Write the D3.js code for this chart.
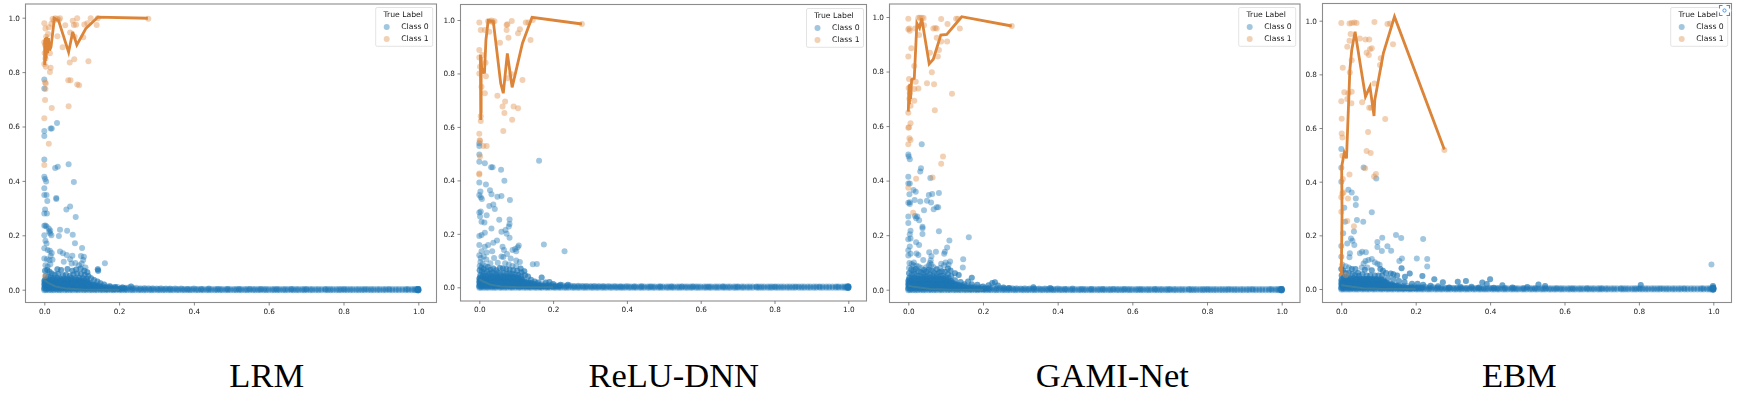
<!DOCTYPE html>
<html>
<head>
<meta charset="utf-8">
<script src="https://cdn.jsdelivr.net/npm/d3@7"></script>
<style>
    html, body { margin: 0; background: #fff; overflow: hidden; }
    svg { display: block; }
    .plot { filter: blur(0.6px); }
    .tick text, .legend text { font-family: "DejaVu Sans"; fill: #1a1a1a; }
    .caption { font-family: "Liberation Serif"; font-size: 34.5px; fill: #000; text-anchor: middle; }
</style>
</head>
<body>
<svg width="1737" height="393"></svg>
<script>
const tickValues = [0, 0.2, 0.4, 0.6, 0.8, 1.0];
const captions = ["LRM", "ReLU-DNN", "GAMI-Net", "EBM"];
const legendTitle = "True Label";
const legendLabels = ["Class 0", "Class 1"];

// x of the class 0 points lying on the zero line, same for all models
const baselineX = [0, .005, .012, .019, .025, .033, .04, .046, .055, .061, .069, .075, .084, .09, .098, .106, .112, .121, .127, .135,
    .141, .15, .156, .164, .17, .179, .185, .192, .201, .207, .215, .221, .23, .236, .243, .252, .258, .266, .272, .281,
    .287, .294, .303, .309, .317, .323, .332, .338, .345, .354, .36, .369, .375, .383, .389, .396, .405, .411, .419, .425,
    .434, .44, .447, .456, .462, .47, .476, .485, .491, .498, .507, .513, .521, .527, .536, .542, .549, .558, .564, .572,
    .578, .587, .593, .6, .609, .615, .623, .629, .638, .644, .651, .66, .666, .674, .68, .689, .695, .702, .711, .717,
    .726, .733, .741, .752, .758, .765, .772, .781, .788, .794, .803, .81, .818, .825, .834, .841, .849, .856, .866, .874,
    .881, .89, .897, .906, .913, .923, .931, .94, .948, .957, .966, .974, .983, .99, .995, .998, 1, 1, 1, 1];

// solid part of the class 0 cloud next to the origin, same for all models
const cloudCore = [
    [0, .006], [.007, .004], [.013, .007], [.02, .005], [.027, .006], [.033, .004], [.04, .007], [.046, .005], [.053, .006], [.06, .004],
    [.066, .007], [.073, .005], [.08, .006], [.086, .004], [.093, .007], [.1, .005], [.106, .006], [.113, .004], [.12, .006], [.127, .005],
    [.134, .004], [.141, .006], [.149, .004], [.157, .005], [.166, .003], [.175, .004], [.186, .003], [.198, .003],
    [.002, .014], [.009, .015], [.016, .013], [.023, .014], [.03, .016], [.037, .013], [.043, .015], [.05, .014], [.057, .013], [.064, .016],
    [.07, .014], [.077, .015], [.084, .013], [.09, .014], [.097, .016], [.104, .013], [.111, .014], [.118, .012], [.125, .013], [.133, .011],
    [.142, .012], [.152, .01], [.163, .009],
    [.001, .023], [.008, .022], [.015, .024], [.021, .023], [.028, .021], [.035, .024], [.042, .022], [.049, .023], [.055, .021], [.062, .024],
    [.069, .023], [.075, .022], [.082, .024], [.089, .022], [.096, .023], [.103, .021], [.11, .022], [.118, .02], [.127, .019], [.136, .017],
    [0, .032], [.006, .031], [.013, .033], [.019, .03], [.026, .032], [.033, .031], [.039, .03], [.046, .033], [.053, .031], [.059, .03],
    [.066, .033], [.073, .031], [.08, .03], [.087, .032], [.094, .031], [.101, .03], [.109, .029], [.117, .027],
    [.003, .01], [.01, .009], [.017, .011], [.024, .01], [.031, .009], [.038, .011], [.044, .01], [.051, .009], [.058, .011], [.065, .01],
    [.071, .009], [.078, .011], [.085, .01], [.092, .009], [.099, .011], [.105, .01], [.112, .009], [.119, .009], [.126, .009], [.134, .008],
    [.143, .008], [.151, .007], [.16, .006], [.17, .006], [.18, .005], [.19, .005], [.205, .004], [.215, .004],
    [0, .018], [.005, .019], [.012, .018], [.018, .02], [.025, .018], [.032, .019], [.039, .018], [.047, .02], [.054, .018], [.06, .019],
    [.067, .018], [.074, .02], [.081, .018], [.088, .019], [.095, .018], [.102, .019], [.109, .017], [.116, .016], [.123, .016], [.13, .015],
    [.138, .014], [.147, .012], [.003, .027], [.01, .028], [.017, .027], [.024, .026], [.031, .028], [.038, .026], [.045, .027], [.052, .026],
    [.058, .027], [.065, .028], [.072, .026], [.079, .027], [.086, .026], [.093, .027], [.1, .026], [.107, .025], [.114, .024], [.122, .023],
    [.002, .037], [.009, .038], [.016, .036], [.023, .037], [.03, .036], [.037, .036], [.044, .037], [.051, .036], [.058, .036], [.065, .037],
    [.072, .036], [.079, .036], [.086, .037], [.093, .036], [.1, .035], [.107, .034], [.114, .032]];

// thin tail of the cloud that runs along the zero line
const cloudTail = [[.12, .018], [.132, .02], [.145, .016], [.155, .014], [.168, .012], [.178, .011], [.188, .009], [.196, .01], [.207, .008], [.218, .007],
    [.226, .008], [.237, .006], [.246, .007], [.257, .005], [.268, .006], [.279, .005], [.29, .005], [.301, .004], [.312, .005], [.325, .004],
    [.336, .004], [.35, .004], [.366, .004], [.382, .003], [.4, .004], [.42, .003], [.44, .004], [.465, .003], [.49, .003], [.52, .003],
    [.55, .003], [.58, .003], [.62, .002], [.66, .003], [.7, .002], [.75, .002], [.8, .002], [.86, .002], [.92, .002], [.97, .002]];

// LRM
const lrmClass0 = [[0, .773], [0, .74], [0, .583], [0, .565], [.017, .593], [.02, .593], [.034, .613], [0, .479], [.029, .447], [.036, .452],
    [.065, .461], [0, .415], [.002, .407], [.005, .398], [0, .373], [0, .348], [.006, .348], [.008, .326], [.032, .337], [.032, .333],
    [.059, .295], [.069, .306], [.084, .267], [.079, .396], [.002, .295], [0, .28], [.007, .28], [0, .235], [.006, .232], [.003, .236],
    [.012, .225], [.013, .213], [.016, .207], [.019, .2], [.016, .218], [.042, .22], [.061, .217], [.039, .197], [.076, .202], [.082, .171],
    [.101, .153], [0, .2], [.003, .18], [.006, .17], [0, .152], [.009, .146], [.042, .14], [.015, .143], [.02, .135], [.05, .134],
    [.017, .125], [.06, .128], [.075, .125], [.098, .124], [.106, .121], [.104, .109], [.162, .097], [.143, .075], [.144, .07], [0, .115],
    [.007, .112], [.014, .108], [.022, .11], [.069, .112], [.052, .103], [.073, .096], [.083, .098], [.093, .09], [.1, .096], [.11, .082],
    [.003, .09], [.009, .085], [.016, .094], [.035, .075], [.045, .072], [.062, .076], [.075, .07], [.085, .074], [.097, .078], [.107, .07],
    [.115, .064], [.002, .07], [.008, .072], [.014, .066], [.02, .06], [.028, .055], [.037, .058], [.05, .052], [.058, .056], [.068, .05],
    [.078, .056], [.088, .06], [.098, .058], [.108, .054], [.118, .05], [.125, .042], [.133, .036], [.142, .03], [.15, .024], [.16, .019],
    [.004, .05], [.011, .048], [.018, .045], [.025, .042], [.034, .044], [.042, .04], [.052, .041], [.062, .04], [.072, .043], [.083, .042],
    [.093, .044], [.103, .042], [.113, .04], [.175, .013], [.19, .01], [.232, .012], [.21, .008]];
const lrmClass1 = [[0, .98], [.003, .96], [.012, .965], [.019, .978], [.022, .995], [.026, .99], [.029, .998], [.035, .996], [.039, .992], [.042, .998],
    [.056, .972], [.076, .989], [.079, .973], [.088, .998], [.085, .974], [.107, .975], [.115, .98], [.124, .998], [.14, .973], [.143, .998],
    [.278, .996], [.035, .932], [.049, .891], [.069, .946], [.081, .93], [.104, .928], [.068, .835], [.08, .847], [.118, .84], [.017, .816],
    [.015, .8], [.015, .869], [.064, .77], [.07, .77], [.088, .754], [.093, .752], [.002, .762], [.004, .758], [.003, .738], [.002, .697],
    [.02, .668], [.065, .674], [0, .63], [.012, .537], [0, .458], [0, .91], [.002, .9], [.005, .93], [.001, .87], [.003, .85],
    [0, .83], [.004, .82], [.006, .89], [.01, .94], [.002, .05]];
const lrmLine = [[.001, .826], [.001, .92], [.003, .84], [.003, .925], [.005, .85], [.006, .93], [.009, .87], [.011, .925], [.014, .88], [.018, .893],
    [.027, .998], [.038, .99], [.065, .873], [.076, .948], [.087, .9], [.111, .96], [.143, 1.002], [.277, .998]];
const lrmLine0 = [[0, .035], [.01, .025], [.03, .012], [.06, .004], [.1, .001], [.2, 0]];

// ReLU-DNN
const reluClass0 = [[0, .529], [0, .539], [0, .497], [0, .47], [.015, .464], [.032, .449], [.036, .449], [.059, .44], [.068, .399], [0, .392],
    [.018, .385], [.029, .363], [.003, .358], [0, .345], [.004, .337], [.007, .33], [.033, .348], [.049, .339], [.06, .342], [.083, .327],
    [.038, .31], [.027, .304], [.042, .293], [0, .28], [.004, .284], [.002, .265], [.02, .27], [.006, .245], [.014, .242], [.054, .253],
    [.082, .254], [.082, .237], [.08, .227], [.033, .22], [.06, .208], [.071, .214], [.074, .2], [.082, .185], [.015, .204], [.006, .196],
    [0, .192], [0, .158], [.015, .152], [.024, .158], [.038, .167], [.048, .175], [.063, .152], [.107, .156], [.097, .143], [.175, .16],
    [.231, .135], [.162, .473], [.145, .086], [.156, .087], [.169, .037], [.104, .15], [.1, .135], [.09, .14], [.067, .14], [.035, .135],
    [.02, .13], [.006, .135], [0, .12], [.004, .11], [.012, .115], [.019, .104], [.04, .11], [.06, .115], [.065, .113], [.075, .125],
    [.085, .108], [.1, .1], [.11, .095], [.05, .092], [.03, .09], [.003, .095], [.009, .088], [.016, .08], [.023, .076], [.07, .09],
    [.08, .085], [.09, .08], [.1, .08], [.112, .07], [.122, .06], [.001, .08], [.006, .074], [.012, .068], [.03, .066], [.038, .07],
    [.046, .064], [.056, .072], [.064, .07], [.073, .068], [.082, .066], [.092, .064], [.103, .062], [.114, .055], [.124, .045], [.132, .04],
    [.001, .064], [.007, .058], [.014, .055], [.021, .06], [.028, .052], [.035, .055], [.043, .05], [.05, .055], [.058, .05], [.066, .054],
    [.074, .05], [.082, .052], [.09, .05], [.098, .048], [.106, .046], [.114, .04], [.003, .046], [.01, .044], [.017, .042], [.024, .043],
    [.032, .042], [.04, .04], [.048, .042], [.056, .04], [.064, .041], [.072, .04], [.08, .041], [.088, .04], [.096, .039], [.104, .036],
    [.14, .028], [.15, .022], [.16, .018], [.18, .018], [.19, .02], [.2, .012], [.22, .01], [.24, .01]];
const reluClass1 = [[0, .991], [.004, .963], [.015, .963], [.024, .995], [.029, .995], [.033, .998], [.037, .992], [.041, .995], [.027, .956], [.056, .915],
    [.074, .981], [.076, .984], [.088, .996], [.074, .963], [.079, .934], [.11, .965], [.105, .95], [.126, .991], [.133, .991], [.139, .925],
    [.145, 1.0], [.278, .985], [0, .888], [.008, .869], [.017, .84], [0, .86], [.002, .825], [0, .8], [.018, .79], [.117, .776],
    [.076, .782], [.086, .798], [.006, .75], [.015, .726], [.049, .717], [.07, .695], [.063, .676], [.093, .676], [.105, .67], [.068, .652],
    [.089, .627], [.065, .585], [.004, .64], [.004, .622], [0, .574], [.002, .547], [.011, .529], [.02, .529], [.002, .489], [0, .426],
    [0, .422], [.001, .55]];
const reluLine = [[.004, .626], [.003, .87], [.005, .65], [.005, .86], [.007, .8], [.009, .82], [.014, .8], [.018, .925], [.024, .998], [.038, .994],
    [.058, .763], [.065, .726], [.076, .875], [.089, .748], [.117, .913], [.143, 1.01], [.278, .985]];
const reluLine0 = [[0, .03], [.01, .022], [.03, .01], [.06, .003], [.1, .001], [.2, 0]];

// GAMI-Net
const gamiClass0 = [[.036, .533], [0, .496], [.001, .488], [.004, .478], [.034, .445], [.032, .433], [.059, .41], [0, .414], [0, .389], [.004, .389],
    [.003, .35], [.014, .366], [.02, .359], [.055, .347], [.064, .351], [.082, .355], [.032, .323], [.017, .329], [.05, .326], [.061, .32],
    [.004, .321], [0, .319], [.004, .314], [.076, .302], [.08, .302], [.068, .295], [.042, .291], [0, .268], [0, .245], [.018, .27],
    [.024, .268], [.021, .262], [.029, .255], [.038, .231], [.038, .225], [.038, .204], [.082, .214], [.006, .216], [.004, .203], [0, .185],
    [.006, .188], [.11, .18], [.162, .192], [.021, .174], [.029, .164], [.004, .158], [0, .145], [.104, .155], [.056, .137], [.074, .139],
    [.098, .139], [.096, .132], [.147, .112], [.146, .081], [.17, .044], [.015, .1], [.04, .109], [.062, .123], [.112, .103], [.022, .133],
    [.027, .127], [0, .125], [.006, .132], [.06, .108], [.058, .098], [.088, .095], [.1, .1], [.108, .092], [.003, .098], [.009, .094],
    [.014, .09], [.022, .088], [.028, .085], [.035, .08], [.042, .072], [.048, .082], [.055, .09], [.062, .092], [.068, .082], [.076, .075],
    [.085, .08], [.096, .09], [.106, .078], [.113, .07], [.125, .06], [.135, .054], [.002, .08], [.008, .074], [.014, .07], [.02, .076],
    [.027, .068], [.034, .064], [.041, .06], [.048, .066], [.055, .074], [.062, .07], [.069, .062], [.076, .058], [.083, .064], [.09, .068],
    [.098, .066], [.106, .058], [.115, .05], [.002, .06], [.009, .055], [.016, .058], [.023, .052], [.03, .05], [.037, .046], [.044, .048],
    [.051, .052], [.058, .056], [.065, .05], [.072, .044], [.079, .046], [.086, .05], [.093, .05], [.1, .046], [.108, .042], [.003, .044],
    [.01, .042], [.017, .044], [.024, .04], [.031, .04], [.038, .039], [.045, .04], [.052, .042], [.059, .044], [.066, .04], [.073, .038],
    [.08, .038], [.087, .04], [.094, .04], [.101, .038], [.125, .035], [.14, .028], [.15, .02], [.16, .03], [.17, .02], [.185, .018],
    [.2, .012], [.215, .016], [.225, .025], [.232, .027], [.24, .015], [.255, .008], [.27, .006], [.335, .009], [.38, .006]];
const gamiClass1 = [[0, .994], [0, .955], [.004, .95], [.003, .958], [.018, .958], [.027, .997], [.031, .997], [.036, .997], [.041, .996], [.029, .934],
    [.042, .97], [.067, .958], [.072, .96], [.076, .958], [.088, .993], [.105, .974], [.128, .994], [.133, .994], [.138, .958], [.277, .967],
    [.076, .924], [.104, .91], [.088, .91], [.008, .885], [0, .855], [.058, .869], [.082, .879], [.079, .855], [.016, .82], [.063, .797],
    [.002, .773], [.02, .763], [.016, .736], [.027, .738], [.05, .757], [.069, .753], [.117, .719], [.016, .693], [.071, .658], [.006, .675],
    [0, .649], [.006, .61], [0, .594], [.002, .596], [.003, .555], [.006, .549], [0, .533], [.093, .488], [.088, .462], [.021, .407],
    [.065, .411], [0, .374], [.013, .282], [.001, .74], [.004, .72], [.003, .7]];
const gamiLine = [[0, .653], [.002, .75], [.003, .68], [.004, .755], [.006, .7], [.009, .77], [.016, .775], [.023, .977], [.03, .96], [.036, .995],
    [.056, .828], [.067, .845], [.087, .934], [.103, .936], [.143, 1.001], [.277, .967]];
const gamiLine0 = [[0, .015], [.01, .012], [.03, .008], [.06, .003], [.1, .001], [.2, 0]];

// EBM
const ebmClass0 = [[0, .522], [0, .452], [.06, .453], [.094, .412], [0, .4], [.019, .37], [.028, .36], [.039, .337], [.039, .313], [.008, .303],
    [.082, .286], [.042, .257], [.059, .251], [.01, .251], [.034, .214], [.005, .208], [.147, .201], [.161, .19], [.11, .191], [.097, .175],
    [.22, .186], [.035, .164], [.026, .188], [.03, .18], [.016, .17], [.097, .157], [.124, .159], [.134, .143], [.109, .142], [.066, .137],
    [.056, .139], [.05, .133], [.023, .133], [.022, .118], [.203, .114], [.231, .112], [.231, .084], [.163, .114], [.156, .104], [.162, .077],
    [.995, .091], [.184, .058], [.171, .046], [.218, .048], [.25, .036], [.273, .025], [.313, .027], [.335, .03], [.379, .024], [.4, .036],
    [.391, .019], [.433, .014], [.53, .017], [.548, .011], [.805, .015], [.999, .011], [1, .006], [.06, .095], [.065, .104], [.073, .108],
    [.082, .112], [.09, .1], [.097, .094], [.103, .09], [.105, .075], [.112, .068], [.055, .08], [.063, .072], [.07, .08], [.082, .07],
    [.012, .085], [.02, .08], [.028, .075], [.038, .075], [.045, .06], [.12, .06], [.133, .058], [.14, .055], [.15, .05], [.005, .07],
    [.012, .06], [.02, .06], [.03, .056], [.037, .052], [.047, .048], [.057, .055], [.068, .05], [.078, .05], [.09, .05], [.1, .05],
    [.11, .05], [.125, .04], [.14, .035], [.155, .03], [.17, .026], [.19, .02], [.205, .02], [.22, .016], [.24, .012], [.26, .01],
    [.29, .006], [.32, .008], [.35, .008], [.37, .006], [.41, .005], [.46, .006], [.5, .007], [.001, .05], [.008, .046], [.015, .042],
    [.024, .04], [.033, .04], [.042, .038], [.052, .037], [.062, .036], [.072, .037], [.082, .036], [.095, .035], [.108, .036], [0, .16],
    [0, .12], [.003, .09], [0, .075]];
const ebmClass1 = [[0, .991], [.022, .99], [.028, .991], [.035, .993], [.041, .991], [.089, .995], [.124, .988], [.131, .99], [.025, .95], [.022, .925],
    [.016, .903], [.028, .853], [.05, .934], [.065, .93], [.075, .93], [.068, .881], [.074, .872], [.077, .894], [.082, .897], [.139, .912],
    [.106, .86], [.104, .835], [.004, .825], [.023, .807], [.089, .766], [.008, .733], [.028, .735], [.019, .73], [0, .7], [.016, .708],
    [.027, .692], [.056, .696], [.075, .676], [.08, .676], [.118, .634], [.001, .635], [.001, .58], [.003, .565], [.072, .585], [.068, .514],
    [.079, .507], [.003, .497], [.064, .45], [.022, .427], [.093, .429], [.088, .419], [.277, .518], [.004, .41], [.003, .357], [.006, .36],
    [0, .342], [.018, .337], [0, .288], [.016, .253], [.034, .234], [.012, .052]];
const ebmLine = [[0, .052], [.002, .282], [.001, .456], [.008, .508], [.014, .487], [.023, .816], [.028, .89], [.037, .959], [.065, .717], [.077, .754],
    [.088, .645], [.09, .704], [.113, .878], [.143, 1.015], [.277, .52]];
const ebmLine0 = [[0, .015], [.01, .012], [.03, .008], [.06, .003], [.1, .001], [.2, 0]];

const class0Data = [lrmClass0, reluClass0, gamiClass0, ebmClass0];
const class1Data = [lrmClass1, reluClass1, gamiClass1, ebmClass1];
const lineData = [lrmLine, reluLine, gamiLine, ebmLine];
const line0Data = [lrmLine0, reluLine0, gamiLine0, ebmLine0];

// pixel frame of each panel: box, where 0 and 1 land on both axes, legend box, caption
const layout = [
    {left: 25.5, right: 436.5, top: 4, bottom: 302.5, x0: 44.3, x1: 418.3, y0: 289.7, y1: 17.7, legendX: 375.7, legendY: 7.5, capX: 266.7},
    {left: 460.5, right: 866.5, top: 4.5, bottom: 301, x0: 479.3, x1: 848.3, y0: 287.3, y1: 20, legendX: 806.5, legendY: 8.5, capX: 673.7},
    {left: 889.5, right: 1300, top: 4, bottom: 302.5, x0: 908.3, x1: 1281.7, y0: 289.7, y1: 17, legendX: 1238.7, legendY: 7.5, capX: 1112.3},
    {left: 1322.5, right: 1731.5, top: 3.5, bottom: 302.5, x0: 1341.3, x1: 1713.3, y0: 289, y1: 20.7, legendX: 1670.7, legendY: 7.5, capX: 1519.3}
];

const blue = "#1f77b4";
const orange = "#e08e4a";
const lineColor = "#dc8438";
const frameColor = "#8c8c8c";
const dotR = 3;

function drawDots(g, data, scX, scY, color) {
    g.append("g")
        .selectAll("circle")
        .data(data)
        .enter()
        .append("circle")
        .attr("cx", d => scX(d[0]))
        .attr("cy", d => scY(d[1]))
        .attr("r", dotR)
        .style("fill", color)
        .style("fill-opacity", 0.42);
}

function drawLine(g, data, scX, scY, color, width, opacity) {
    const line = d3.line().x(d => scX(d[0])).y(d => scY(d[1]));
    g.append("path")
        .attr("d", line(data))
        .style("fill", "none")
        .style("stroke", color)
        .style("stroke-width", width)
        .style("stroke-opacity", opacity)
        .style("stroke-linejoin", "miter");
}

function drawLegend(g, area) {
    const legend = g.append("g")
        .attr("class", "legend")
        .attr("transform", `translate(${area.legendX}, ${area.legendY})`);
    legend.append("rect")
        .attr("width", 57)
        .attr("height", 38.8)
        .attr("rx", 1.5)
        .style("fill", "#fff")
        .style("fill-opacity", 0.8)
        .style("stroke", "#dcdcdc")
        .style("stroke-width", 0.8);
    legend.append("text")
        .attr("x", 27.5)
        .attr("y", 7)
        .attr("dy", "0.35em")
        .attr("text-anchor", "middle")
        .style("font-size", "7.7px")
        .text(legendTitle);
    legendLabels.forEach((label, i) => {
        const rowY = 19.5 + i * 12;
        legend.append("circle")
            .attr("cx", 11)
            .attr("cy", rowY)
            .attr("r", dotR)
            .style("fill", i == 0 ? blue : orange)
            .style("fill-opacity", 0.42);
        legend.append("text")
            .attr("x", 25.5)
            .attr("y", rowY - 1)
            .attr("dy", "0.35em")
            .style("font-size", "7.7px")
            .text(label);
    });
}

function drawPanel(svg, i) {
    const area = layout[i];
    const scaleX = d3.scaleLinear().domain([0, 1]).range([area.x0, area.x1]);
    const scaleY = d3.scaleLinear().domain([0, 1]).range([area.y0, area.y1]);

    const g = svg.append("g").attr("class", "plot");

    // рамка
    g.append("rect")
        .attr("x", area.left)
        .attr("y", area.top)
        .attr("width", area.right - area.left)
        .attr("height", area.bottom - area.top)
        .style("fill", "#fff")
        .style("stroke", frameColor)
        .style("stroke-width", 1.1);

    // оси
    const axisX = d3.axisBottom(scaleX).tickValues(tickValues).tickFormat(d3.format(".1f")).tickSize(3).tickPadding(3);
    const axisY = d3.axisLeft(scaleY).tickValues(tickValues).tickFormat(d3.format(".1f")).tickSize(3).tickPadding(2.5);
    const gx = g.append("g").attr("transform", `translate(0, ${area.bottom})`).call(axisX);
    const gy = g.append("g").attr("transform", `translate(${area.left}, 0)`).call(axisY);
    [gx, gy].forEach(ax => {
        ax.select(".domain").remove();
        ax.selectAll("line").style("stroke", "#555").style("stroke-width", 0.7);
        ax.selectAll("text").style("font-size", "7.3px");
    });

    // точки: базовая линия, плотное облако, остальные
    const baseline = baselineX.flatMap(x => [[x, 0.003], [x, -0.002]]);
    drawDots(g, baseline, scaleX, scaleY, blue);
    drawDots(g, cloudCore, scaleX, scaleY, blue);
    drawDots(g, cloudCore, scaleX, scaleY, blue);
    drawDots(g, cloudTail, scaleX, scaleY, blue);
    // в плотной части облака точек намного больше, чем можно перечислить
    drawDots(g, class0Data[i].filter(d => d[1] < 0.08), scaleX, scaleY, blue);
    drawDots(g, class0Data[i], scaleX, scaleY, blue);
    drawDots(g, class1Data[i], scaleX, scaleY, orange);

    drawLine(g, line0Data[i], scaleX, scaleY, "#4f8796", 2, 0.6);
    drawLine(g, lineData[i], scaleX, scaleY, lineColor, 2.8, 1);

    drawLegend(g, area);

    svg.append("text")
        .attr("class", "caption")
        .attr("x", area.capX)
        .attr("y", 386.5)
        .text(captions[i]);
}

const svg = d3.select("svg");
captions.forEach((c, i) => drawPanel(svg, i));

// значок поверх легенды на последней панели
const icon = svg.append("g").attr("transform", "translate(1724.5, 10.5)");
icon.append("circle").attr("r", 6.8).style("fill", "#fff");
icon.append("path")
    .attr("d", "M-5,-2V-5H-2M2,-5H5V-2M5,2V5H2M-2,5H-5V2")
    .style("fill", "none")
    .style("stroke", "#3d8fd8")
    .style("stroke-width", 1.1);
icon.append("circle").attr("r", 1.6).style("fill", "none").style("stroke", "#3d8fd8").style("stroke-width", 0.9);
</script>
</body>
</html>
